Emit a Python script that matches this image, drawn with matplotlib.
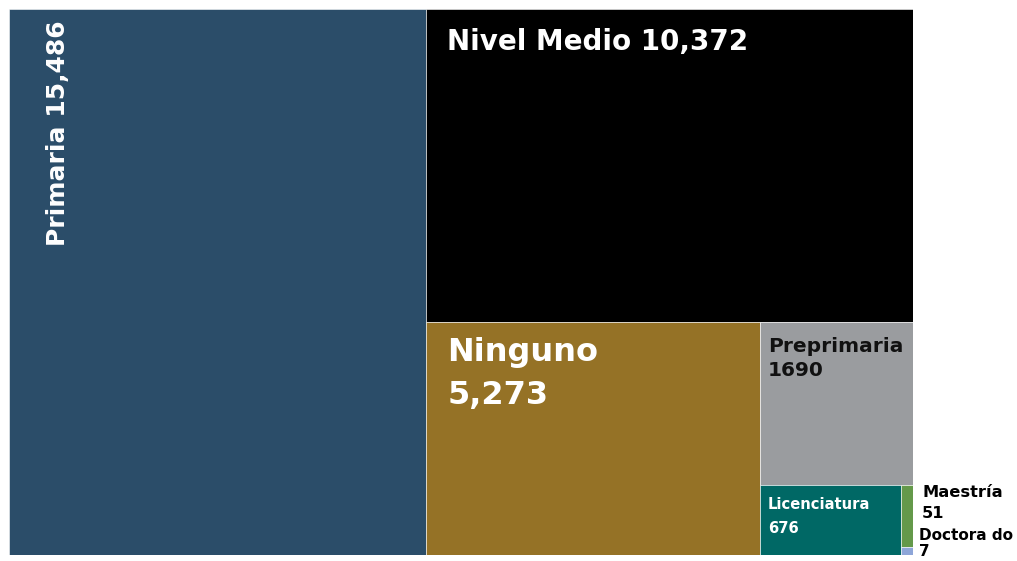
import matplotlib.pyplot as plt
from matplotlib.patches import Rectangle

# --- data ---
niveles = ['Primaria', 'Nivel Medio', 'Ninguno', 'Preprimaria', 'Licenciatura', 'Maestría', 'Doctorado']
valores = [15486, 10372, 5273, 1690, 676, 51, 7]
etiquetas = ['Primaria 15,486', 'Nivel Medio 10,372', 'Ninguno\n5,273', 'Preprimaria\n1690',
             'Licenciatura\n676', 'Maestría\n51', 'Doctora do\n7']
colores = ['#2B4D69', '#000000', '#957226', '#9A9C9F', '#006865', '#64994A', '#8EA6D8']

W, H = 904.0, 546.0  # canvas in layout units (same aspect as plot area)


def slice_layout(vals, x, y, w, h):
    """Each item takes a slice of the remaining box along its longer side."""
    rects = []
    rest = float(sum(vals))
    for v in vals:
        f = v / rest
        if w >= h:
            rects.append((x, y, w * f, h))
            x += w * f
            w -= w * f
        else:
            rects.append((x, y, w, h * f))
            y += h * f
            h -= h * f
        rest -= v
    return rects


rects = slice_layout(valores, 0, 0, W, H)

fig = plt.figure(figsize=(10.17, 5.61), dpi=100)
ax = fig.add_axes([9 / 1017, 6 / 561, 904 / 1017, 546 / 561])
ax.set_xlim(0, W)
ax.set_ylim(H, 0)
ax.axis('off')

for (x, y, w, h), c in zip(rects, colores):
    ax.add_patch(Rectangle((x, y), w, h, facecolor=c, edgecolor='white', linewidth=0.4))

fam = ['DejaVu Sans']

# Primaria, rotated
x, y, w, h = rects[0]
ax.text(x + 49, y + 11, etiquetas[0], rotation=90, ha='center', va='top',
        color='white', fontsize=18, fontweight='bold', family=fam)
# Nivel Medio
x, y, w, h = rects[1]
ax.text(x + 21, y + 19, etiquetas[1], ha='left', va='top',
        color='white', fontsize=20, fontweight='bold', family=fam)
# Ninguno
x, y, w, h = rects[2]
ax.text(x + 21, y + 15, etiquetas[2], ha='left', va='top', linespacing=1.5,
        color='white', fontsize=23, fontweight='bold', family=fam)
# Preprimaria
x, y, w, h = rects[3]
ax.text(x + 8, y + 15, etiquetas[3], ha='left', va='top', linespacing=1.3,
        color='#111111', fontsize=14.5, fontweight='bold', family=fam)
# Licenciatura
x, y, w, h = rects[4]
ax.text(x + 8, y + 12, etiquetas[4], ha='left', va='top', linespacing=1.8,
        color='white', fontsize=10.6, fontweight='bold', family=fam)
# Maestría and Doctorado, outside to the right
x, y, w, h = rects[5]
ax.text(x + w + 9, y, etiquetas[5], ha='left', va='top', linespacing=1.55,
        color='black', fontsize=11.7, fontweight='bold', family=fam, clip_on=False)
x, y, w, h = rects[6]
ax.text(x + w + 6, y - 19, etiquetas[6], ha='left', va='top', linespacing=1.15,
        color='black', fontsize=11, fontweight='bold', family=fam, clip_on=False)

plt.savefig('out.png', dpi=100)
